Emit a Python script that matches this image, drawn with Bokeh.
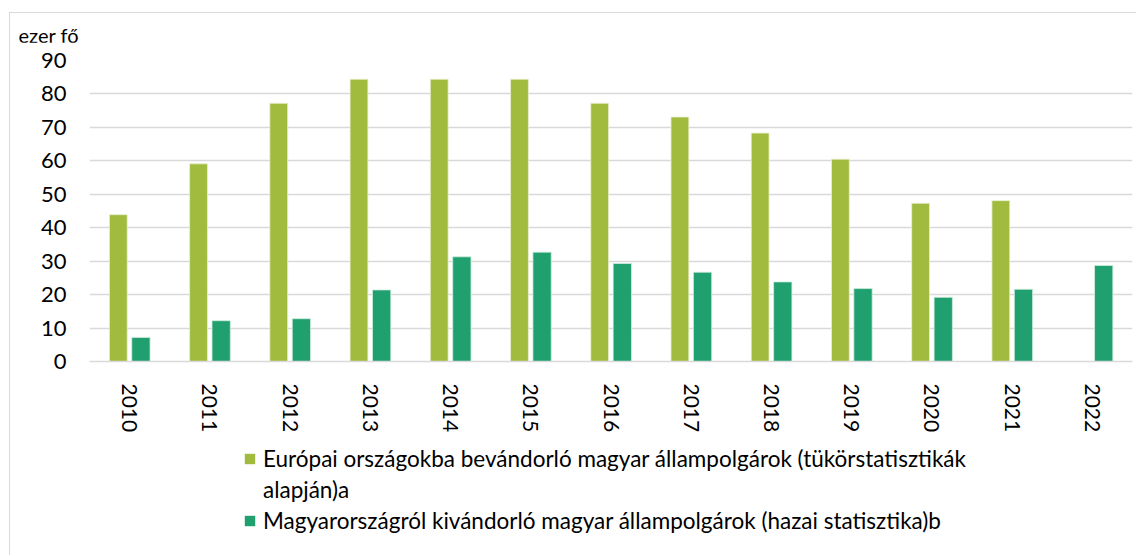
import math
from bokeh.plotting import figure
from bokeh.layouts import column
from bokeh.models import (ColumnDataSource, FactorRange, Range1d, Legend, LegendItem,
                          SingleIntervalTicker, Div)
from bokeh.transform import dodge
from bokeh.embed import file_html
from bokeh.resources import INLINE

years = ["2010", "2011", "2012", "2013", "2014", "2015", "2016", "2017",
         "2018", "2019", "2020", "2021", "2022"]
europe = [43.9, 59.1, 77.2, 84.4, 84.4, 84.4, 77.2, 73.1, 68.3, 60.5, 47.3, 48.1, float("nan")]
hungary = [7.2, 12.2, 12.8, 21.4, 31.3, 32.7, 29.3, 26.7, 23.8, 21.8, 19.2, 21.6, 28.7]
label_eu_1 = "Európai országokba bevándorló magyar állampolgárok (tükörstatisztikák"
label_eu_2 = "alapján)a"
label_hu = "Magyarországról kivándorló magyar állampolgárok (hazai statisztika)b"
unit_label = "ezer fő"

FONT = "Lato"
GREEN = "#A0BB3E"
TEAL = "#209F6F"
GRID = "#D9D9D9"
W = 1126

src = ColumnDataSource(dict(year=years, eu=europe, hu=hungary))

head = Div(text=unit_label, width=W - 20, height=19,
           styles={"font-family": FONT, "font-size": "20px", "color": "#000000",
                   "line-height": "1.2", "padding-left": "3.5px", "padding-top": "5px",
                   "box-sizing": "border-box"})

p = figure(width=W, height=397, output_backend="svg", toolbar_location=None,
           x_range=FactorRange(*years, range_padding=0), y_range=Range1d(0, 90),
           min_border_left=79, min_border_right=4, min_border_top=18, min_border_bottom=78)
p.outline_line_color = None
p.background_fill_color = "white"
p.border_fill_color = "white"

r1 = p.vbar(x=dodge("year", -0.141, range=p.x_range), top="eu", width=0.222, source=src,
            fill_color=GREEN, line_color="#E8F0D0", line_width=0.8)
r2 = p.vbar(x=dodge("year", 0.141, range=p.x_range), top="hu", width=0.228, source=src,
            fill_color=TEAL, line_color="#D0EDE0", line_width=0.8)

p.yaxis.ticker = SingleIntervalTicker(interval=10)
p.ygrid.ticker = SingleIntervalTicker(interval=10)
p.ygrid.grid_line_color = GRID
p.ygrid.grid_line_width = 1.5
p.xgrid.grid_line_color = None

for ax in (p.xaxis, p.yaxis):
    ax.major_tick_line_color = None
    ax.minor_tick_line_color = None
    ax.major_label_text_font = FONT
    ax.major_label_text_color = "#000000"
p.yaxis.major_label_text_font_size = "22px"
p.xaxis.major_label_text_font_size = "21px"
p.yaxis.axis_line_color = None
p.yaxis.major_label_standoff = 17
p.xaxis.axis_line_color = GRID
p.xaxis.axis_line_width = 1.5
p.xaxis.major_label_orientation = -math.pi / 2
p.xaxis.major_label_standoff = 16

# legend strip below the chart (proxy bars from the same data, outside its visible y range)
q = figure(width=W, height=116, output_backend="svg", toolbar_location=None,
           x_range=FactorRange(*years, range_padding=0), y_range=Range1d(1000, 1001),
           min_border=0)
q.outline_line_color = None
q.axis.visible = False
q.grid.visible = False
q.border_fill_color = "white"
lr1 = q.vbar(x="year", top="eu", width=0.2, source=src, fill_color=GREEN, line_color=None)
lr_blank = q.vbar(x="year", top="eu", width=0.2, source=src, fill_alpha=0, line_alpha=0)
lr2 = q.vbar(x="year", top="hu", width=0.2, source=src, fill_color=TEAL, line_color=None)

legend = Legend(items=[LegendItem(label=label_eu_1, renderers=[lr1]),
                       LegendItem(label=label_eu_2, renderers=[lr_blank]),
                       LegendItem(label=label_hu, renderers=[lr2])],
                location=(154, 21), orientation="vertical",
                label_text_font=FONT, label_text_font_size="22.5px", label_text_color="#000000",
                label_height=27, glyph_width=13, glyph_height=13, label_standoff=7, spacing=4,
                padding=0, margin=0, border_line_color=None, background_fill_alpha=0)
q.add_layout(legend, "center")

layout = column(head, p, q, spacing=0)
layout.styles = {"margin-left": "9px", "margin-top": "12px",
                 "border-left": "1.5px solid #D9D9D9", "border-top": "1.5px solid #D9D9D9"}

open("out.html", "w").write(file_html(layout, INLINE))
